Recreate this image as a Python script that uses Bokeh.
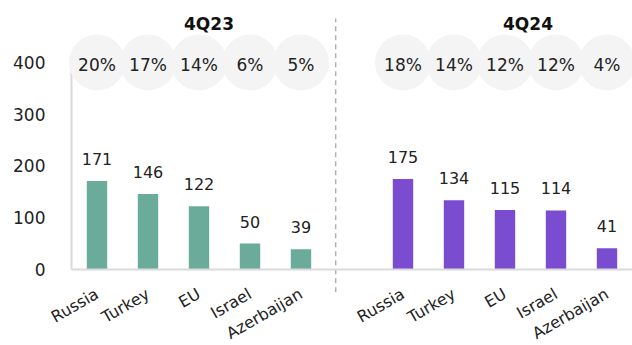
from bokeh.plotting import figure
from bokeh.models import Range1d, ColumnDataSource, FixedTicker, LinearAxis
from bokeh.core.properties import value
from bokeh.embed import file_html
from bokeh.resources import INLINE
from math import pi

periods = ["4Q23", "4Q24"]
countries = ["Russia", "Turkey", "EU", "Israel", "Azerbaijan"]
values_4q23 = [171, 146, 122, 50, 39]
values_4q24 = [175, 134, 115, 114, 41]
shares_4q23 = ["20%", "17%", "14%", "6%", "5%"]
shares_4q24 = ["18%", "14%", "12%", "12%", "4%"]
period_colors = ["#6aab9a", "#7a4ccf"]
y_ticks = [0, 100, 200, 300, 400]

FONT = "DejaVu Sans"
TXT = "#222222"
BUBBLE_LEVEL = 400
GROUP_STEP = len(countries) + 1   # one empty slot between the periods

xs, tops, cols, shares = [], [], [], []
tick_pos, tick_lab = [], []
for g, (per, vals, shr, col) in enumerate(zip(periods, [values_4q23, values_4q24],
                                              [shares_4q23, shares_4q24], period_colors)):
    for i, (c, v, s) in enumerate(zip(countries, vals, shr)):
        x = g * GROUP_STEP + i + 0.5
        xs.append(x)
        tops.append(v)
        cols.append(col)
        shares.append(s)
        tick_pos.append(x)
        tick_lab.append(c)

src = ColumnDataSource(dict(x=xs, top=tops, color=cols, share=shares,
                            label=[str(v) for v in tops],
                            bubble=[BUBBLE_LEVEL] * len(xs)))

x_end = GROUP_STEP * len(periods) - 1
p = figure(width=632, height=345,
           x_range=Range1d(-1.392, x_end),
           y_range=Range1d(-146.9, 519.8),
           output_backend="svg", toolbar_location=None,
           min_border_left=0, min_border_right=0, min_border_top=0, min_border_bottom=0)
p.outline_line_color = None
p.grid.visible = False
p.xaxis.visible = False
p.yaxis.visible = False

# bubbles with shares
p.scatter(x="x", y="bubble", source=src, size=56, fill_color="#f4f4f4", line_color=None)
p.text(x="x", y="bubble", text="share", source=src, text_align="center", text_baseline="middle",
       y_offset=3, text_font=value(FONT), text_font_size="17px", text_color=TXT)

# bars
p.vbar(x="x", top="top", width=0.4, source=src, fill_color="color", line_color=None)
p.text(x="x", y="top", text="label", source=src, text_align="center", text_baseline="middle",
       y_offset=-22, text_font=value(FONT), text_font_size="16px", text_color=TXT)

# period titles
centers = [g * GROUP_STEP + len(countries) / 2 for g in range(len(periods))]
p.text(x=centers, y=[475, 475], text=periods,
       x_offset=[10, 23], text_align="center", text_baseline="middle",
       text_font=value(FONT), text_font_size="17px", text_font_style="bold", text_color="#111111")

# dashed separator between the periods
sep = len(countries) + 0.18
p.segment(x0=[sep], y0=[-44], x1=[sep], y1=[485], line_color="#aab3b1",
          line_width=1.5, line_dash="5 4")

# axes placed inside the frame
xa = LinearAxis(fixed_location=0, bounds=(0, x_end))
xa.ticker = FixedTicker(ticks=tick_pos)
xa.major_label_overrides = {t: l for t, l in zip(tick_pos, tick_lab)}
xa.axis_line_color = "#dadada"
xa.axis_line_width = 2
xa.major_tick_line_color = None
xa.minor_tick_line_color = None
xa.major_label_orientation = pi / 6
xa.major_label_standoff = 17
xa.major_label_text_font = FONT
xa.major_label_text_font_size = "16px"
xa.major_label_text_color = TXT
p.add_layout(xa, "below")

ya = LinearAxis(fixed_location=0, bounds=(0, 400))
ya.ticker = FixedTicker(ticks=y_ticks)
ya.level = "underlay"
ya.axis_line_color = "#dadada"
ya.axis_line_width = 2
ya.major_tick_line_color = None
ya.minor_tick_line_color = None
ya.major_label_standoff = 20
ya.major_label_text_font = FONT
ya.major_label_text_font_size = "17px"
ya.major_label_text_color = TXT
p.add_layout(ya, "left")

open("out.html", "w").write(file_html(p, INLINE))
